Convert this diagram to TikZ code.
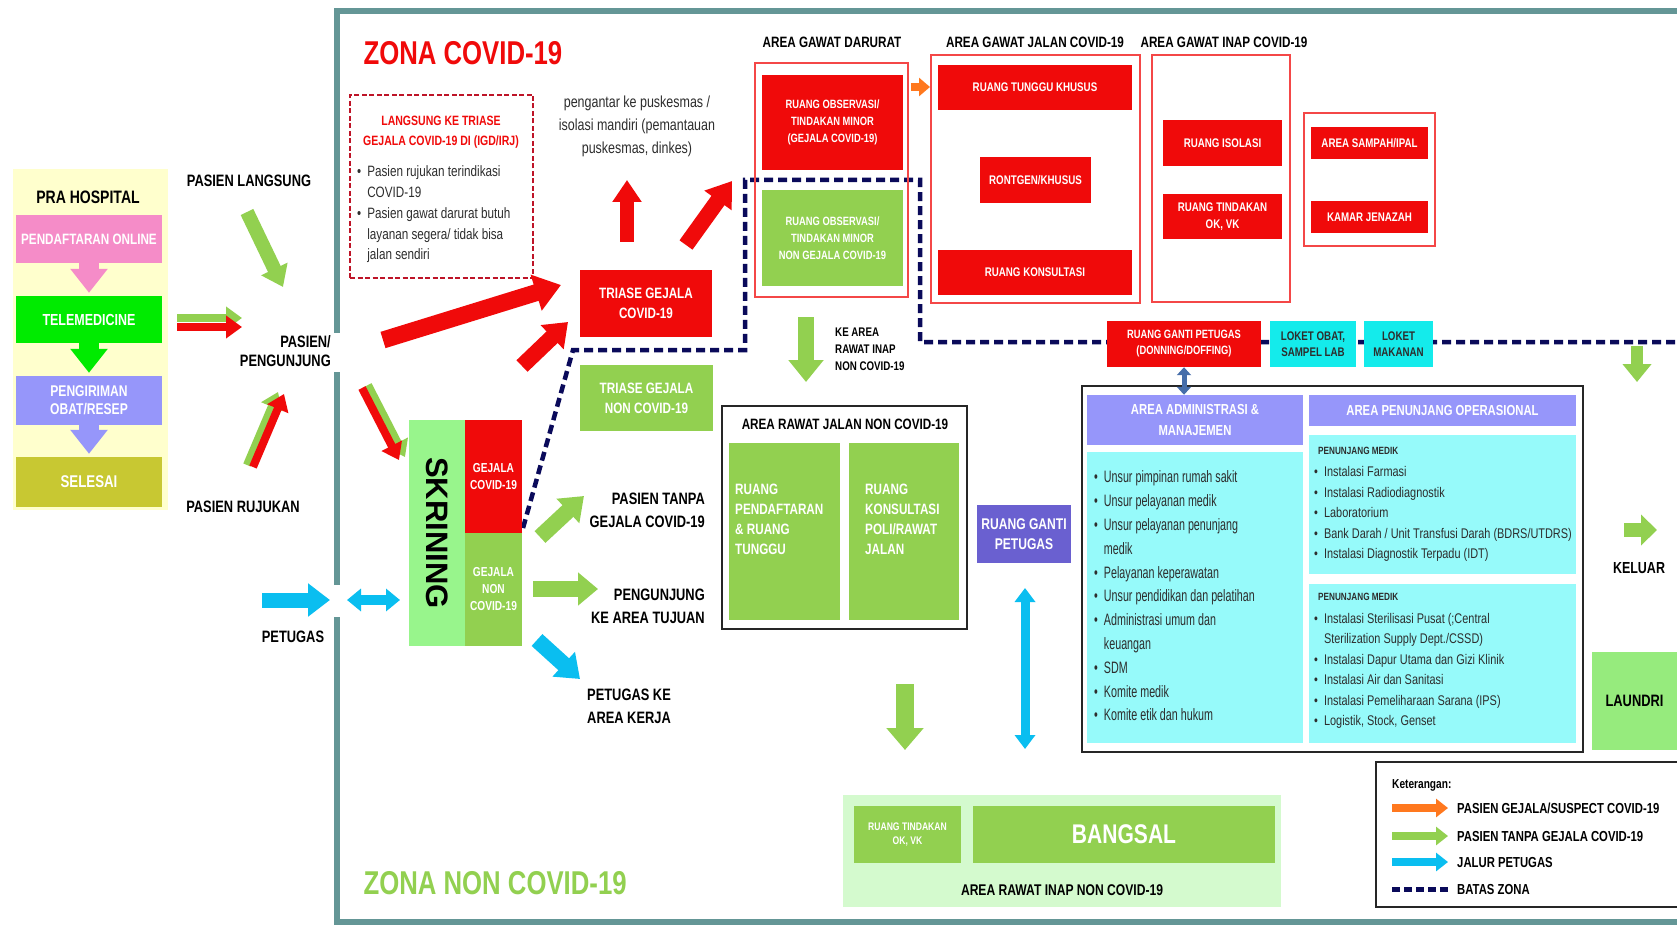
\documentclass[tikz,border=0pt]{standalone}
\usepackage{fontspec}
\setmainfont[FakeStretch=0.78]{Liberation Sans}
\newfontfamily\widefont{Liberation Sans}
\newfontfamily\narrowfont[FakeStretch=0.65]{Liberation Sans}
\usepackage{tikz}
\usetikzlibrary{arrows.meta}
\definecolor{cred}{RGB}{240,10,10}
\definecolor{cgreen}{RGB}{146,208,80}
\definecolor{clgreen}{RGB}{152,245,140}
\definecolor{cpale}{RGB}{212,250,206}
\definecolor{ccyan}{RGB}{150,250,250}
\definecolor{cloket}{RGB}{20,235,235}
\definecolor{cblue}{RGB}{10,190,240}
\definecolor{clav}{RGB}{150,150,250}
\definecolor{cviolet}{RGB}{106,96,208}
\definecolor{cpink}{RGB}{245,140,200}
\definecolor{ctele}{RGB}{0,235,0}
\definecolor{colive}{RGB}{200,200,50}
\definecolor{cpra}{RGB}{255,255,205}
\definecolor{cteal}{RGB}{100,150,150}
\definecolor{cnavy}{RGB}{10,10,90}
\definecolor{corange}{RGB}{255,120,30}
\definecolor{cdark}{RGB}{45,45,45}
\definecolor{csteel}{RGB}{70,110,170}
\definecolor{claundri}{RGB}{150,235,125}
\definecolor{cdash}{RGB}{190,20,40}
\newcommand\fsz[2]{\fontsize{#1}{#2}\selectfont}
\newcommand\bul{\textbullet\hspace{6pt}}
\newcommand\bulind{\hphantom{\textbullet\hspace{6pt}}}
\tikzset{
  box/.style={inner sep=1pt, align=center, text=white, font=\bfseries\fsz{12.5}{17}},
  redbox/.style={box, fill=cred},
  grnbox/.style={box, fill=cgreen},
  cyanbox/.style={box, fill=cloket, text=cdark},
  areabox/.style={draw=cred!75, line width=2},
  blackbox/.style={draw=black!85, line width=2.5},
  lbl/.style={inner sep=0pt, align=center, text=black, font=\bfseries\fsz{16.5}{19}},
  arr/.style n args={3}{line width=#1pt, -{Triangle[length=#2pt,width=#3pt]}},
  darr/.style n args={3}{line width=#1pt, {Triangle[length=#2pt,width=#3pt]}-{Triangle[length=#2pt,width=#3pt]}},
  batas/.style={draw=cnavy, line width=4.5, dash pattern=on 9pt off 5pt},
}
\begin{document}
\begin{tikzpicture}[x=1pt, y=-1pt]
    \useasboundingbox (0,0) rectangle (1677,925);
    \fill[white] (0,0) rectangle (1677,925);

    % Zone border
    \draw[cteal, line width=6] (1690,11) -- (337,11) -- (337,333);
    \draw[cteal, line width=6] (337,372) -- (337,585);
    \draw[cteal, line width=6] (337,617) -- (337,922) -- (1690,922);
    \node[anchor=west, text=cred, font=\bfseries\fsz{33}{35}] (zona) at (360,53) {ZONA COVID-19};
    \node[anchor=west, text=cgreen, font=\bfseries\fsz{33}{35}] (zonanon) at (360,883) {ZONA NON COVID-19};

    % Pra hospital
    \node[fill=cpra, minimum width=155, minimum height=341] (prabg) at (90.5,339.5) {};
    \node[lbl, font=\bfseries\fsz{18}{20}] (praT) at (88,197) {PRA HOSPITAL};
    \node[box, fill=cpink, minimum width=146, minimum height=48, font=\bfseries\fsz{15}{17}] (daftar) at (89,239) {PENDAFTARAN ONLINE};
    \node[box, fill=ctele, minimum width=146, minimum height=47, font=\bfseries\fsz{16}{18}] (tele) at (89,319.5) {TELEMEDICINE};
    \node[box, fill=clav, minimum width=146, minimum height=49, font=\bfseries\fsz{15.5}{18}] (kirim) at (89,400.5) {PENGIRIMAN\\OBAT/RESEP};
    \node[box, fill=colive, minimum width=146, minimum height=50, font=\bfseries\fsz{17}{19}] (selesai) at (89,482) {SELESAI};
    \draw[cpink, arr={20}{24}{36}, shorten >=3pt] (daftar) -- (tele);
    \draw[ctele, arr={20}{24}{36}, shorten >=3pt] (tele) -- (kirim);
    \draw[clav, arr={20}{24}{36}, shorten >=3pt] (kirim) -- (selesai);

    % Arrivals
    \node[lbl] (langsung) at (249,181) {PASIEN LANGSUNG};
    \node[lbl, anchor=east, align=right] (pengunjung) at (331,351) {PASIEN/\\PENGUNJUNG};
    \node[lbl] (rujukan) at (243,507) {PASIEN RUJUKAN};
    \node[lbl] (petugas) at (293,637) {PETUGAS};
    \coordinate (l1) at (247,212); \coordinate (l2) at (283,287);
    \draw[cgreen, arr={14}{20}{28}] (l1) -- (l2);
    \coordinate (t1) at (177,318); \coordinate (t2) at (242,318);
    \coordinate (t3) at (177,327); \coordinate (t4) at (242,327);
    \draw[cgreen, arr={8}{16}{22}] (t1) -- (t2);
    \draw[cred, arr={8}{16}{22}] (t3) -- (t4);
    \coordinate (r1) at (247,465); \coordinate (r2) at (278,392);
    \coordinate (r3) at (253,467); \coordinate (r4) at (284,394);
    \draw[cgreen, arr={8}{16}{22}] (r1) -- (r2);
    \draw[cred, arr={8}{16}{22}] (r3) -- (r4);
    \coordinate (p1) at (262,600); \coordinate (p2) at (330,600);
    \draw[cblue, arr={15}{22}{32}] (p1) -- (p2);
    \coordinate (p3) at (347,600); \coordinate (p4) at (400,600);
    \draw[cblue, darr={10}{14}{22}] (p3) -- (p4);

    % Langsung ke triase
    \node[draw=cdash, line width=2.5, dash pattern=on 5pt off 2.5pt, minimum width=183, minimum height=183] (langbox) at (441.5,186.5) {};
    \node[lbl, text=cred, font=\bfseries\fsz{13.5}{20}] (langT) at (441,132) {LANGSUNG KE TRIASE\\GEJALA COVID-19 DI (IGD/IRJ)};
    \node[anchor=west, align=left, inner sep=0pt, text=cdark, font=\fsz{15}{20.7}] (langL) at (357,214.5)
      {\bul Pasien rujukan terindikasi\\\bulind COVID-19\\\bul Pasien gawat darurat butuh\\\bulind layanan segera/ tidak bisa\\\bulind jalan sendiri};
    \node[align=center, inner sep=0pt, text=cdark, font=\fsz{16}{23}] (antar) at (637,126)
      {pengantar ke puskesmas /\\isolasi mandiri (pemantauan\\puskesmas, dinkes)};

    % Zone boundary
    \draw[batas] (523,528) -- (573,350) -- (745,350) -- (745,180) -- (920,180) -- (920,342) -- (1690,342);

    % Triase and skrining
    \node[redbox, minimum width=132, minimum height=67, font=\bfseries\fsz{15}{20}] (triase) at (646,303.5) {TRIASE GEJALA\\COVID-19};
    \node[grnbox, minimum width=133, minimum height=66, font=\bfseries\fsz{15}{20}] (triasenon) at (646.5,398) {TRIASE GEJALA\\NON COVID-19};
    \node[fill=clgreen, rotate=-90, minimum width=226, minimum height=56, inner sep=0pt, font=\widefont\bfseries\fsz{31}{33}] (skrining) at (437,533) {SKRINING};
    \node[redbox, minimum width=57, minimum height=113, font=\bfseries\fsz{13}{17}] (gejala) at (493.5,476.5) {GEJALA\\COVID-19};
    \node[grnbox, minimum width=57, minimum height=113, font=\bfseries\fsz{13}{17}] (gejalanon) at (493.5,589.5) {GEJALA\\NON\\COVID-19};
    \coordinate (s1) at (383,340); \coordinate (s2) at (561,285);
    \draw[cred, arr={17}{26}{36}] (s1) -- (s2);
    \coordinate (s3) at (362,388); \coordinate (s4) at (399,460);
    \coordinate (s5) at (368,385); \coordinate (s6) at (405,457);
    \draw[cgreen, arr={8}{16}{22}] (s5) -- (s6);
    \draw[cred, arr={8}{16}{22}] (s3) -- (s4);
    \coordinate (s7) at (522,366); \coordinate (s8) at (568,322);
    \draw[cred, arr={16}{22}{32}] (s7) -- (s8);
    \coordinate (u1) at (627,242); \coordinate (u2) at (627,180);
    \draw[cred, arr={14}{22}{28}] (u1) -- (u2);
    \coordinate (u3) at (686,245); \coordinate (u4) at (732,181);
    \draw[cred, arr={16}{24}{32}] (u3) -- (u4);
    \coordinate (g1) at (540,537); \coordinate (g2) at (584,496);
    \draw[cgreen, arr={16}{22}{32}] (g1) -- (g2);
    \coordinate (g3) at (533,589); \coordinate (g4) at (598,589);
    \draw[cgreen, arr={16}{20}{32}] (g3) -- (g4);
    \coordinate (g5) at (537,640); \coordinate (g6) at (580,679);
    \draw[cblue, arr={16}{22}{32}] (g5) -- (g6);
    \node[lbl, anchor=east, align=right, font=\bfseries\fsz{16.5}{23}] (tanpa) at (705,510) {PASIEN TANPA\\GEJALA COVID-19};
    \node[lbl, anchor=east, align=right, font=\bfseries\fsz{16.5}{23}] (tujuan) at (705,606) {PENGUNJUNG\\KE AREA TUJUAN};
    \node[lbl, anchor=west, align=left, font=\bfseries\fsz{16.5}{23}] (kerja) at (587,706) {PETUGAS KE\\AREA KERJA};

    % Area gawat darurat
    \node[lbl, font=\bfseries\fsz{15}{17}] (gdT) at (832,42) {AREA GAWAT DARURAT};
    \node[areabox, minimum width=153, minimum height=234] (gdbox) at (831.5,180) {};
    \node[redbox, minimum width=141, minimum height=95, font=\bfseries\fsz{12}{17}] (obsred) at (832.5,122.5) {RUANG OBSERVASI/\\TINDAKAN MINOR\\(GEJALA COVID-19)};
    \node[grnbox, minimum width=141, minimum height=96, font=\bfseries\fsz{12}{17}] (obsgrn) at (832.5,238) {RUANG OBSERVASI/\\TINDAKAN MINOR\\NON GEJALA COVID-19};
    \coordinate (o1) at (911,87); \coordinate (o2) at (930,87);
    \draw[corange, arr={8}{11}{18}] (o1) -- (o2);

    % Area gawat jalan
    \node[lbl, font=\bfseries\fsz{15}{17}] (gjT) at (1035,42) {AREA GAWAT JALAN COVID-19};
    \node[areabox, minimum width=209, minimum height=248] (gjbox) at (1035.5,179) {};
    \node[redbox, minimum width=194, minimum height=45] (tunggu) at (1035,87.5) {RUANG TUNGGU KHUSUS};
    \node[redbox, minimum width=111, minimum height=46] (rontgen) at (1035.5,180) {RONTGEN/KHUSUS};
    \node[redbox, minimum width=194, minimum height=45] (konsul) at (1035,272.5) {RUANG KONSULTASI};

    % Area gawat inap
    \node[lbl, font=\bfseries\fsz{15}{17}] (giT) at (1224,42) {AREA GAWAT INAP COVID-19};
    \node[areabox, minimum width=138, minimum height=247] (gibox) at (1221,178.5) {};
    \node[redbox, minimum width=119, minimum height=46] (isolasi) at (1222.5,143) {RUANG ISOLASI};
    \node[redbox, minimum width=119, minimum height=45] (tindakan) at (1222.5,216.5) {RUANG TINDAKAN\\OK, VK};
    \node[areabox, minimum width=131, minimum height=133] (sampahbox) at (1369.5,179.5) {};
    \node[redbox, minimum width=117, minimum height=32] (sampah) at (1369.5,143) {AREA SAMPAH/IPAL};
    \node[redbox, minimum width=117, minimum height=32] (jenazah) at (1369.5,217) {KAMAR JENAZAH};

    % Ruang ganti and loket
    \node[redbox, minimum width=154, minimum height=46, font=\bfseries\fsz{12}{16}] (donning) at (1184,344) {RUANG GANTI PETUGAS\\(DONNING/DOFFING)};
    \node[cyanbox, minimum width=86, minimum height=46, font=\bfseries\fsz{12.5}{16}] (loketobat) at (1313,344) {LOKET OBAT,\\SAMPEL LAB};
    \node[cyanbox, minimum width=69, minimum height=46, font=\bfseries\fsz{12.5}{16}] (loketmakan) at (1398.5,344) {LOKET\\MAKANAN};
    \coordinate (k1) at (1637,346); \coordinate (k2) at (1637,382);
    \draw[cgreen, arr={12}{18}{28}] (k1) -- (k2);

    % Rawat jalan non covid
    \coordinate (j1) at (806,317); \coordinate (j2) at (806,382);
    \draw[cgreen, arr={16}{22}{34}] (j1) -- (j2);
    \node[lbl, anchor=west, align=left, font=\bfseries\fsz{12.5}{17}] (keinap) at (835,349) {KE AREA\\RAWAT INAP\\NON COVID-19};
    \node[blackbox, minimum width=245, minimum height=223] (rjbox) at (844.5,517.5) {};
    \node[lbl, font=\bfseries\fsz{15}{17}] (rjT) at (845,424) {AREA RAWAT JALAN NON COVID-19};
    \node[grnbox, minimum width=111, minimum height=177] (daftar2) at (784.5,531.5) {};
    \node[box, anchor=west, align=left, inner sep=0pt, font=\bfseries\fsz{15}{20}] (daftarT) at (735,519.5) {RUANG\\PENDAFTARAN\\\& RUANG\\TUNGGU};
    \node[grnbox, minimum width=110, minimum height=177] (poli) at (904,531.5) {};
    \node[box, anchor=west, align=left, inner sep=0pt, font=\bfseries\fsz{15}{20}] (poliT) at (865,519.5) {RUANG\\KONSULTASI\\POLI/RAWAT\\JALAN};
    \node[box, fill=cviolet, minimum width=94, minimum height=58, font=\bfseries\fsz{15.5}{20}] (ganti) at (1024,534) {RUANG GANTI\\PETUGAS};
    \coordinate (c1) at (1025,588); \coordinate (c2) at (1025,749);
    \draw[cblue, darr={9}{14}{20}] (c1) -- (c2);
    \coordinate (d1) at (905,684); \coordinate (d2) at (905,750);
    \draw[cgreen, arr={18}{22}{36}] (d1) -- (d2);

    % Administrasi dan penunjang
    \node[blackbox, minimum width=501, minimum height=366] (adminbox) at (1332.5,569) {};
    \node[box, fill=clav, minimum width=216, minimum height=50, font=\bfseries\fsz{14.5}{21}] (adminH) at (1195,420) {AREA ADMINISTRASI \&\\MANAJEMEN};
    \node[fill=ccyan, minimum width=216, minimum height=291] (adminB) at (1195,597.5) {};
    \node[anchor=west, align=left, inner sep=0pt, text=cdark, font=\narrowfont\fsz{16.5}{23.8}] (adminL) at (1094,596)
      {\bul Unsur pimpinan rumah sakit\\\bul Unsur pelayanan medik\\\bul Unsur pelayanan penunjang\\\bulind medik\\\bul Pelayanan keperawatan\\\bul Unsur pendidikan dan pelatihan\\\bul Administrasi umum dan\\\bulind keuangan\\\bul SDM\\\bul Komite medik\\\bul Komite etik dan hukum};
    \node[box, fill=clav, minimum width=267, minimum height=31, font=\bfseries\fsz{14.5}{17}] (penH) at (1442.5,410.5) {AREA PENUNJANG OPERASIONAL};
    \node[fill=ccyan, minimum width=267, minimum height=139] (pen1) at (1442.5,504.5) {};
    \node[anchor=west, inner sep=0pt, text=cdark, font=\bfseries\fsz{10.5}{12}] (pen1T) at (1318,451) {PENUNJANG MEDIK};
    \node[anchor=west, align=left, inner sep=0pt, text=cdark, font=\fsz{14}{20.5}] (pen1L) at (1314,514)
      {\bul Instalasi Farmasi\\\bul Instalasi Radiodiagnostik\\\bul Laboratorium\\\bul Bank Darah / Unit Transfusi Darah (BDRS/UTDRS)\\\bul Instalasi Diagnostik Terpadu (IDT)};
    \node[fill=ccyan, minimum width=267, minimum height=159] (pen2) at (1442.5,663.5) {};
    \node[anchor=west, inner sep=0pt, text=cdark, font=\bfseries\fsz{10.5}{12}] (pen2T) at (1318,597) {PENUNJANG MEDIK};
    \node[anchor=west, align=left, inner sep=0pt, text=cdark, font=\fsz{14}{20.5}] (pen2L) at (1314,671)
      {\bul Instalasi Sterilisasi Pusat (;Central\\\bulind Sterilization Supply Dept./CSSD)\\\bul Instalasi Dapur Utama dan Gizi Klinik\\\bul Instalasi Air dan Sanitasi\\\bul Instalasi Pemeliharaan Sarana (IPS)\\\bul Logistik, Stock, Genset};
    \draw[csteel, darr={5}{8}{14}] (donning.south) -- (donning.south |- adminH.north);

    % Keluar and laundri
    \coordinate (e1) at (1624,530); \coordinate (e2) at (1657,530);
    \draw[cgreen, arr={14}{16}{30}] (e1) -- (e2);
    \node[lbl, font=\bfseries\fsz{16}{18}] (keluar) at (1639,568) {KELUAR};
    \node[fill=claundri, minimum width=85, minimum height=98, inner sep=0pt, font=\bfseries\fsz{16.5}{18}] (laundri) at (1634.5,701) {LAUNDRI};

    % Rawat inap non covid
    \node[fill=cpale, minimum width=438, minimum height=112] (inapbg) at (1062,851) {};
    \node[grnbox, minimum width=107, minimum height=57, font=\bfseries\fsz{11}{14}] (tindak2) at (907.5,834.5) {RUANG TINDAKAN\\OK, VK};
    \node[grnbox, minimum width=302, minimum height=57, font=\bfseries\fsz{27}{30}] (bangsal) at (1124,834.5) {BANGSAL};
    \node[lbl, font=\bfseries\fsz{15.5}{17}] (inapT) at (1062,890) {AREA RAWAT INAP NON COVID-19};

    % Legend
    \node[blackbox, minimum width=314, minimum height=145] (legbox) at (1533,834.5) {};
    \node[anchor=west, inner sep=0pt, font=\bfseries\fsz{13}{15}] (legT) at (1392,785) {Keterangan:};
    \coordinate (m1) at (1392,808); \coordinate (m2) at (1448,808);
    \coordinate (m3) at (1392,836); \coordinate (m4) at (1448,836);
    \coordinate (m5) at (1392,862); \coordinate (m6) at (1448,862);
    \coordinate (m7) at (1392,889); \coordinate (m8) at (1448,889);
    \draw[corange, arr={8}{12}{18}] (m1) -- (m2);
    \draw[cgreen, arr={8}{12}{18}] (m3) -- (m4);
    \draw[cblue, arr={8}{12}{18}] (m5) -- (m6);
    \draw[batas, line width=5, dash pattern=on 8pt off 4pt] (m7) -- (m8);
    \node[lbl, anchor=west, font=\bfseries\fsz{14.5}{16}] (leg1) at (1457,808) {PASIEN GEJALA/SUSPECT COVID-19};
    \node[lbl, anchor=west, font=\bfseries\fsz{14.5}{16}] (leg2) at (1457,836) {PASIEN TANPA GEJALA COVID-19};
    \node[lbl, anchor=west, font=\bfseries\fsz{14.5}{16}] (leg3) at (1457,862) {JALUR PETUGAS};
    \node[lbl, anchor=west, font=\bfseries\fsz{14.5}{16}] (leg4) at (1457,889) {BATAS ZONA};
\end{tikzpicture}
\end{document}
